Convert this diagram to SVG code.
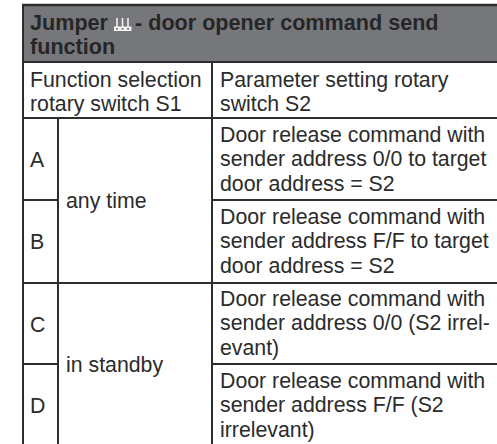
<svg xmlns="http://www.w3.org/2000/svg" width="497" height="444" viewBox="0 0 497 444">
<style>
text{font-family:"Liberation Sans",Arial,sans-serif;font-size:21.3px;fill:#2b2b2b}
.h{font-weight:bold;font-size:21.6px;fill:#262626}
.ln{stroke:#2e2e2e;stroke-width:2;fill:none}
</style>
<rect width="497" height="444" fill="#ffffff"/>
<g id="header">
<rect x="22" y="5" width="480" height="57" fill="#76777b"/>
<text class="h" x="30" y="30">Jumper <tspan dx="21">- door opener command send</tspan></text>
<text class="h" x="30" y="54">function</text>
<g id="jumper-icon" stroke="#f2f2f2" stroke-width="1.6">
<line x1="117" y1="18" x2="117" y2="27"/>
<line x1="122.5" y1="18" x2="122.5" y2="27"/>
<line x1="128" y1="18" x2="128" y2="27"/>
</g>
<rect x="114" y="26.5" width="17.5" height="4.5" fill="#f2f2f2"/>
<rect x="116" y="28" width="2" height="1.6" fill="#777"/>
<rect x="121.5" y="28" width="2" height="1.6" fill="#777"/>
<rect x="127" y="28" width="2" height="1.6" fill="#777"/>
</g>
<g id="col-s1">
<text x="30" y="87">Function selection</text>
<text x="30" y="111">rotary switch S1</text>
</g>
<g id="col-s2">
<text x="220" y="87">Parameter setting rotary</text>
<text x="220" y="111">switch S2</text>
</g>
<g id="letter-a"><text x="30" y="167">A</text></g>
<g id="letter-b"><text x="30" y="249">B</text></g>
<g id="letter-c"><text x="30" y="332">C</text></g>
<g id="letter-d"><text x="30" y="413">D</text></g>
<g id="any-time"><text x="66" y="208">any time</text></g>
<g id="in-standby"><text x="66" y="372">in standby</text></g>
<g id="desc-a">
<text x="220" y="142">Door release command with</text>
<text x="220" y="166">sender address 0/0 to target</text>
<text x="220" y="191">door address = S2</text>
</g>
<g id="desc-b">
<text x="220" y="224">Door release command with</text>
<text x="220" y="248">sender address F/F to target</text>
<text x="220" y="273">door address = S2</text>
</g>
<g id="desc-c">
<text x="220" y="306">Door release command with</text>
<text x="220" y="330">sender address 0/0 (S2 irrel-</text>
<text x="220" y="355">evant)</text>
</g>
<g id="desc-d">
<text x="220" y="388">Door release command with</text>
<text x="220" y="412">sender address F/F (S2</text>
<text x="220" y="437">irrelevant)</text>
</g>
<g id="grid" class="ln">
<line x1="22" y1="5" x2="497" y2="5" stroke-width="2.5"/>
<line x1="23" y1="4" x2="23" y2="444"/>
<line x1="22" y1="62" x2="497" y2="62"/>
<line x1="22" y1="118" x2="497" y2="118"/>
<line x1="22" y1="283" x2="497" y2="283"/>
<line x1="212" y1="62" x2="212" y2="444"/>
<line x1="58" y1="118" x2="58" y2="444"/>
<line x1="22" y1="200" x2="58" y2="200"/>
<line x1="212" y1="200" x2="497" y2="200"/>
<line x1="22" y1="364" x2="58" y2="364"/>
<line x1="212" y1="364" x2="497" y2="364"/>
</g>
</svg>
